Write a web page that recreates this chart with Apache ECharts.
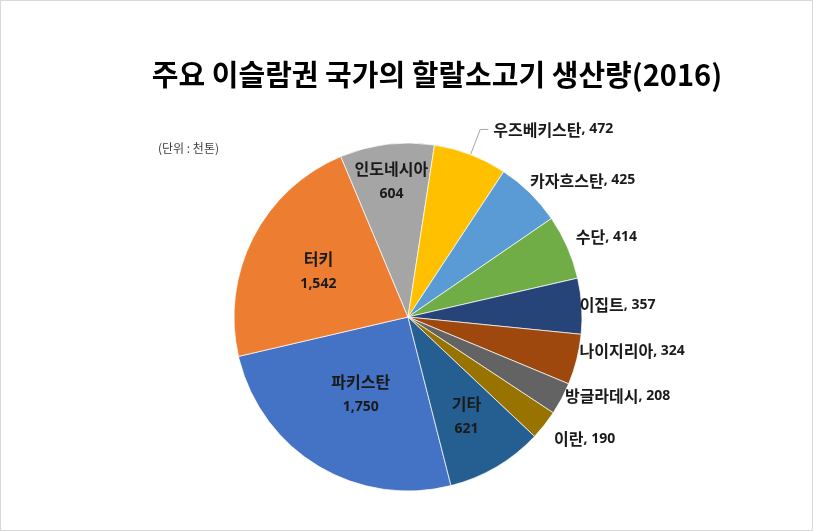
<!DOCTYPE html>
<html><head><meta charset="utf-8">
<script src="https://cdn.jsdelivr.net/npm/echarts@6/dist/echarts.min.js"></script>
<style>
html,body{margin:0;padding:0;background:#fff;}
#c{width:811px;height:529px;border:1px solid #d9d9d9;}
</style></head>
<body><div id="c"></div>
<script>
var titleText = '주요 이슬람권 국가의 할랄소고기 생산량(2016)';
var unitText = '(단위 : 천톤)';
var categories = ['파키스탄','터키','인도네시아','우즈베키스탄','카자흐스탄','수단','이집트','나이지리아','방글라데시','이란','기타'];
var values = [1750,1542,604,472,425,414,357,324,208,190,621];
var colors = ['#4472C4','#ED7D31','#A5A5A5','#FFC000','#5B9BD5','#70AD47','#264478','#9E480E','#636363','#997300','#255E91'];
var insideLabels = ['파키스탄','터키','인도네시아','기타'];
// radial placement (fraction of radius) for the inside labels
var insideRadius = { '파키스탄': 0.52, '터키': 0.58, '인도네시아': 0.79, '기타': 0.66 };
// small pixel nudges for the outside labels
var outsideNudge = { '카자흐스탄': [-11,-8], '수단': [-4,-8], '이집트': [-15,-1], '나이지리아': [-10,-10], '방글라데시': [-9,-6], '이란': [-2,10] };

var CX = 407, CY = 316, R = 174;

function fmt(v){ return v.toString().replace(/\B(?=(\d{3})+(?!\d))/g, ','); }

var data = categories.map(function(n,i){
  var inside = insideLabels.indexOf(n) >= 0;
  var item = { name: n, value: values[i], itemStyle: { color: colors[i] } };
  if (inside) {
    item.label = { position: 'inside', formatter: function(p){ return '{n|' + p.name + '}\n{v|' + fmt(p.value) + '}'; } };
  } else {
    item.label = { position: 'outside', formatter: function(p){ return '{n|' + p.name + '}{v|, ' + fmt(p.value) + '}'; } };
    if (n === '우즈베키스탄') {
      item.labelLine = { show: true, length: 27, length2: 8 };
    } else {
      item.labelLine = { show: false, length: 6, length2: 2 };
    }
  }
  return item;
});

var chart = echarts.init(document.getElementById('c'));
chart.setOption({
  backgroundColor: '#ffffff',
  animation: false,
  title: [
    { text: titleText, left: 431, top: 54, textAlign: 'center',
      textStyle: { fontFamily: 'Noto Sans CJK KR', fontSize: 29, fontWeight: 'bold', color: '#000' } },
    { text: unitText, left: 152, top: 136,
      textStyle: { fontFamily: 'Noto Sans CJK KR', fontSize: 12, fontWeight: 'normal', color: '#404040' } }
  ],
  series: [{
    type: 'pie',
    center: [CX, CY],
    radius: R,
    startAngle: 284.3,
    clockwise: true,
    avoidLabelOverlap: true,
    itemStyle: { borderColor: 'rgba(255,255,255,0.7)', borderWidth: 1 },
    label: {
      color: '#000',
      fontFamily: 'Noto Sans CJK KR',
      rich: {
        n: { fontFamily: 'Noto Sans CJK KR', fontSize: 16, fontWeight: 'bold', color: '#1a1a1a', lineHeight: 25 },
        v: { fontFamily: 'Noto Sans', fontSize: 14, fontWeight: 'bold', color: '#1a1a1a', lineHeight: 25 }
      }
    },
    labelLine: { lineStyle: { color: '#a6a6a6', width: 1 } },
    labelLayout: function(p){
      var name = categories[p.dataIndex];
      if (outsideNudge[name]) return { dx: outsideNudge[name][0], dy: outsideNudge[name][1] };
      if (insideRadius[name] === undefined) return {};
      var lr = p.labelRect;
      var lx = lr.x + lr.width/2, ly = lr.y + lr.height/2;
      var ang = Math.atan2(ly - CY, lx - CX);
      var tr = insideRadius[name] * R;
      return { dx: CX + tr*Math.cos(ang) - lx, dy: CY + tr*Math.sin(ang) - ly };
    },
    data: data
  }]
});
</script></body></html>
